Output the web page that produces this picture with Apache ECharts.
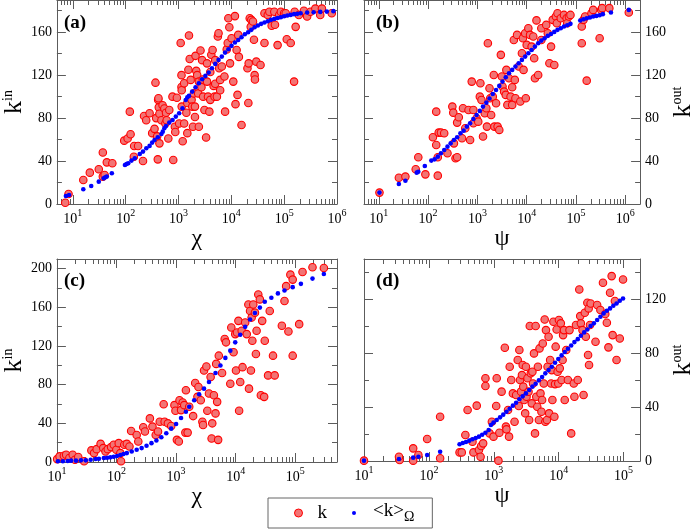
<!DOCTYPE html>
<html><head><meta charset="utf-8">
<script src="https://cdn.jsdelivr.net/npm/echarts@6/dist/echarts.min.js"></script>
<style>html,body{margin:0;padding:0;background:#fff}#c{width:697px;height:531px}</style>
</head><body><div id="c"></div>
<script>
// ---------------- data (x raw values, y values) ----------------
const aRed = [[7.2,1.2],[8.3,9.3],[15.8,22.4],[21,29.2],[31,32.3],[37,48],[37,25.5],[40,27],[44,38.8],[56,38],[94,59],[109,61],[120,86],[124,65],[143,44],[145,54],[172,54],[213,40],[223,82],[245,78],[284,84.5],[318,66],[352,70],[367,113],[378,80],[395,63],[406,41.6],[412,97],[418,98.5],[424,90],[436,84],[436,56.5],[475,78],[500,92],[540,89],[565,75],[581,85],[598,78],[642,61],[670,87.6],[770,100],[796,41],[855,72],[870,67],[932,99],[1030,75],[1100,150],[1140,120],[1140,109],[1150,90.7],[1150,106],[1200,58.4],[1280,112.5],[1280,75],[1410,85],[1470,66],[1470,94],[1540,125],[1580,157],[1630,135],[1700,115.6],[1770,97],[1820,90.7],[1880,72],[1960,103],[2050,90.7],[2050,81],[2100,138],[2170,124],[2260,120],[2360,103],[2430,72],[2430,114],[2610,143],[2720,108.7],[2800,134],[2880,116],[2930,100],[3100,87.6],[3330,62],[3470,114],[3470,131],[3620,100],[3840,86],[4000,97],[4000,123],[4180,139],[4420,143.5],[4620,110],[4820,100],[4960,134],[4960,112],[5330,100],[5560,156],[5730,159],[5890,126.4],[6150,106],[6150,115.6],[6610,128],[7410,118.7],[7620,86],[8190,144],[8550,150],[8790,173],[9180,164.6],[9450,131],[10100,154.4],[10900,114],[11700,175],[12000,93],[12600,143.5],[13100,101.6],[13500,157.5],[13900,137],[15600,73.6],[20200,126.4],[21000,94],[21300,131],[22300,173],[23300,165],[23900,171.5],[25700,170],[26800,153],[27600,120],[28000,116],[29700,132.6],[35700,129.5],[42400,177.7],[42400,150],[48900,176],[52500,179],[58000,166],[65100,179],[67000,167],[75100,148],[80700,176],[86700,179],[100000,177.7],[107000,177.7],[112000,153.5],[133000,150],[154000,114],[158000,179],[165000,165],[190000,176],[236000,180],[272000,174.6],[314000,179],[389000,182],[482000,176],[518000,182],[796000,177.7]];
const aBlue = [[7.4,7.5],[8.5,8.4],[15.8,13.7],[22.3,16.8],[31,20.8],[38.4,23.9],[41.2,24.9],[44,25.5],[54.8,28.6],[97,36.3],[104,37.3],[112,37.9],[129,40.4],[149,42.6],[185,46.6],[213,48.8],[246,51.9],[284,54.1],[318,57.2],[352,59.6],[406,62.1],[475,65.2],[504,67.4],[540,70.5],[581,72.7],[670,75.8],[773,78.3],[891,81.4],[1030,84.5],[1190,89.2],[1370,96.9],[1470,99.4],[1580,100.7],[1820,104.7],[2100,108.7],[2430,112.5],[2800,116.2],[3230,119.3],[3730,122.4],[4300,126.4],[4960,130.5],[5730,134.2],[6610,137.3],[7620,141],[8790,144.1],[10100,147.3],[11700,150.4],[13500,152.8],[15600,155.3],[18000,158.1],[20800,160],[23900,162.2],[27600,164.6],[31800,166.2],[36700,167.8],[42400,169],[48900,170.2],[56400,171.5],[65100,172.4],[75100,173.3],[86700,174],[100000,174.9],[115000,175.5],[133000,176.1],[154000,176.8],[177000,177.1],[205000,177.7],[272000,178.3],[362000,178.6],[482000,178.9],[641000,179.2],[855000,179.6]];
const bRed = [[10.3,10.6],[25.5,24.5],[34.6,25.5],[56,32.3],[63.2,43.5],[88,27.6],[125,62.1],[146,86],[146,55],[157,43.5],[164,66.5],[182,66.5],[157,26.4],[212,65.9],[247,47.2],[310,90.7],[324,85.1],[334,56.5],[360,42.6],[388,43.5],[388,75.8],[419,80.8],[487,61.2],[510,89.2],[567,70.5],[660,87.6],[711,59.6],[767,114],[828,87.6],[828,75.2],[963,79.8],[1040,76.7],[1120,100],[1150,112.5],[1210,96.9],[1300,62.8],[1410,84.5],[1520,89.2],[1560,72.1],[1630,149.7],[1760,107.8],[1820,98.5],[1900,82.9],[2050,100],[2150,120.2],[2210,72.1],[2390,93.8],[2570,72.1],[2780,69],[2990,138.9],[3130,118.7],[3230,109.4],[3480,104.7],[3760,101.6],[3870,124.9],[4060,92.3],[4370,117.1],[4710,100],[5080,108.7],[5080,92.3],[5480,152.8],[5740,115.6],[5910,98.5],[6380,157.5],[6880,128],[7420,95.4],[8000,140.4],[8370,154.4],[8630,124.9],[9310,159],[9590,98.5],[10000,148.2],[10800,163.7],[11700,157.5],[12600,146.6],[13600,156],[14200,135.8],[14700,117.1],[15800,171],[17100,120.2],[19800,152.8],[19800,163.7],[24900,166.8],[26800,159],[28900,131.1],[31200,146.6],[33700,171.5],[36300,129.5],[39100,174.6],[40900,168.4],[42200,177.7],[49100,173],[57100,176.1],[64600,173],[66500,168.4],[71800,174.6],[77300,176.1],[131000,149.7],[131000,165.3],[142000,171.5],[153000,174.6],[165000,114.9],[206000,177.7],[223000,180.8],[302000,154.4],[325000,180.8],[340000,182.4],[475000,182.4],[1180000,178.3]];
const bBlue = [[10.3,10.6],[25.5,18.6],[34.6,21.7],[58.7,29.2],[63.2,30.1],[85.7,35.4],[116,40.4],[135,41.6],[157,44.1],[182,47.2],[212,50.3],[247,53.4],[287,56.5],[334,59.6],[388,62.1],[452,65.9],[526,68.3],[612,72.1],[711,75.2],[828,79.2],[963,82.9],[1120,86.7],[1300,90.7],[1520,94.4],[1760,98.2],[2050,102.5],[2390,106.2],[2780,110],[3230,114],[3760,118],[4370,121.8],[5080,124.9],[5910,128],[6880,131.1],[8000,134.2],[9310,137.3],[10800,140.4],[12600,143.5],[14700,146.6],[17100,149.7],[19800,152.2],[23100,154.4],[26800,156.6],[31200,158.4],[36300,160.3],[42200,162.2],[49100,163.7],[57100,165.3],[66500,166.5],[77300,167.8],[122000,170.9],[142000,172.1],[165000,173],[192000,173.7],[223000,174.6],[259000,175.2],[302000,175.8],[351000,176.8],[512000,178.3],[1180000,180.8]];
const cRed = [[10.1,3],[11.1,5.8],[13.1,6.5],[14.3,7.5],[16.2,4.1],[18.4,7.5],[20.1,2.4],[22.8,5.1],[28.6,0.7],[37.9,12],[42,9.2],[46.5,13.3],[54.1,18.8],[59.9,14.4],[65.4,10.9],[71.4,13.3],[81.1,15.4],[89.8,17.8],[99.3,12.6],[109,19.5],[116,9.2],[119,0.7],[135,17.8],[149,18.8],[165,16],[176,32],[218,28],[232,21.2],[281,35.9],[300,31.5],[363,45.1],[401,36.6],[455,28],[497,31.5],[531,41.7],[618,59.8],[642,41.7],[728,40],[827,37.3],[938,58.8],[975,53],[1030,22.9],[1110,21.2],[1140,63.9],[1210,53.7],[1290,61.5],[1370,58.8],[1430,30.4],[1560,30.4],[1460,74.2],[1660,57.1],[1930,47.5],[2090,81.7],[2280,67.4],[2370,77.6],[2590,63.9],[2760,41.7],[2830,38.3],[2940,94.7],[3220,98.8],[3340,53],[3560,70.8],[3790,87.9],[3940,24.3],[4040,40],[4300,69.1],[4580,50.3],[4700,101.5],[4880,62.2],[5070,22.9],[5200,110],[5900,92],[6530,127.2],[6870,123.8],[8110,81],[8430,139.1],[9200,113.5],[9810,132.3],[10100,94.7],[10500,134],[11100,146],[11400,53],[11900,82.7],[12600,135.7],[13000,98.1],[14400,144.3],[15300,132.3],[16300,163],[16700,75.9],[17400,156.2],[18000,94.7],[18500,149.4],[19000,125.5],[19700,163],[21000,154.5],[21800,111.8],[22400,135.7],[23900,173.3],[25400,168.2],[26400,69.1],[27800,146],[30000,67.4],[30700,125.5],[34900,89.6],[37200,156.2],[42200,110],[45000,89.6],[59400,140.9],[65800,166.5],[70100,181.9],[76600,135],[82600,193.8],[90300,188.7],[90300,110],[116000,142.6],[132000,196.6],[194000,201.4],[301000,200.7]];
const cBlue = [[10.4,0.7],[12.6,0.7],[15.2,1],[17.3,1.4],[20.9,1.4],[25.3,1.7],[30.5,1.7],[36.9,2.4],[44.7,3.1],[50.7,3.4],[61.4,4.1],[69.6,4.4],[79,4.8],[89.8,5.5],[102,6.2],[116,7.2],[131,8.2],[149,9.2],[180,10.9],[218,12.6],[264,14.4],[319,16.8],[386,19.5],[467,22.2],[565,25.6],[684,29.7],[827,34.5],[1000,39.3],[1210,45.5],[1460,52],[1660,57.1],[2010,63.9],[2430,70.1],[2940,75.9],[3560,82.7],[4580,92],[5540,99.8],[6700,107.7],[8110,115.2],[9810,123.8],[11900,131.6],[14400,139.8],[17400,147.4],[21000,154.2],[25400,159.7],[30700,165.8],[39600,169.9],[51000,174.4],[65800,177.4],[90300,180.9],[124000,184.3],[194000,189.7],[301000,194.5]];
const dRed = [[10,0.25],[35.4,0.7],[34.6,3.2],[57.3,9.4],[57.3,0.25],[68.9,4.5],[94,16.3],[149,32.9],[149,2],[297,6.4],[321,6.4],[365,19.3],[395,37.9],[470,14.3],[486,6.4],[546,41.1],[591,8.2],[626,3.2],[640,11.1],[686,13.1],[744,61.4],[744,55.7],[863,20.5],[935,29.2],[991,18.1],[1090,40.8],[1110,61.4],[1180,0.25],[1220,21],[1320,51.5],[1480,84.1],[1540,25.5],[1570,23.5],[1660,37.9],[1720,18.1],[1760,70],[1860,60.1],[1970,50.2],[2090,29.2],[2210,49],[2340,75],[2430,40.8],[2480,82.4],[2540,60.1],[2630,51.5],[2720,63.8],[2790,71.3],[2850,55.2],[2950,45.3],[3050,35.4],[3130,70],[3200,47.7],[3310,61.4],[3430,51.5],[3510,30.4],[3590,100.2],[3720,65.1],[3850,42.8],[3940,66.3],[4030,57.6],[4170,79.9],[4320,20.5],[4420,100.2],[4520,47.7],[4680,40.3],[4790,70],[4960,30.4],[5070,83.6],[5250,50.2],[5430,36.6],[5560,45.3],[5690,87.3],[5890,57.6],[6090,105.1],[6230,29.2],[6370,97.2],[6600,30.4],[6750,70],[6990,92.3],[7140,35.4],[7390,75],[7650,57.6],[7840,67.5],[8010,45.3],[8300,103.4],[8590,32.9],[8800,57.1],[8990,84.9],[9310,97.7],[9640,66.3],[9870,57.6],[10100,104.7],[10400,68.8],[10800,102.2],[11100,60.1],[11500,75],[11700,93.5],[12100,97.2],[12400,45.3],[13100,82.4],[13900,60.1],[14700,97.2],[15600,20.5],[17100,57.6],[17500,47.7],[18500,101],[19700,60.1],[20800,127.4],[21500,107.6],[22000,102.2],[23300,97.2],[24200,49],[25300,110.1],[26200,92.3],[27700,117.5],[28400,78.7],[29000,113.3],[29400,71.3],[30400,101],[31100,117],[37000,88.6],[39200,115.8],[44000,112.1],[48200,132.4],[52300,109.1],[55300,102.7],[58500,84.4],[62000,124.9],[65600,137.3],[67900,93.5],[73600,118.8],[78000,75],[87500,91],[98200,134.8]];
const dBlue = [[10,0.25],[34.6,1.5],[57.3,2.5],[68.9,3.2],[94,4.5],[149,6.9],[297,12.4],[333,13.4],[373,14.1],[419,15.1],[470,16.1],[527,17.1],[591,18.1],[663,19.5],[744,21],[834,23],[904,26.7],[991,28.5],[1110,30.4],[1250,32.4],[1400,34.4],[1570,36.6],[1760,38.8],[1970,41.1],[2210,43.3],[2480,45.8],[2790,48],[3130,50.2],[3510,52.7],[3940,55.2],[4420,57.4],[4960,59.9],[5560,62.3],[6230,65.1],[6990,67.5],[7840,70],[8800,73],[9870,75.7],[11100,78.4],[12400,80.9],[13900,83.4],[15600,85.8],[17500,88.3],[19700,90.5],[22000,93],[24700,95.5],[27700,97.7],[31100,100.2],[34900,102.2],[39200,104.7],[44000,107.1],[49300,109.6],[55300,111.6],[62000,113.3],[69600,115.3],[78000,117],[87500,119],[98200,120.7]];

// tick labels (decade exponents for x, values for y)
const xDecadesAB = [1,2,3,4,5,6];
const xDecadesCD = [1,2,3,4,5];
const yTicksAB = [0,40,80,120,160];
const yTicksC = [0,40,80,120,160,200];
const yTicksD = [0,40,80,120];
const seriesNames = ['k', '<k>Ω'];
const panelLabels = ['(a)','(b)','(c)','(d)'];

// ---------------- chart ----------------
const FONT = 'Liberation Serif';
const LINE = '#5c5c5c';
const RED_FILL = '#f27474', RED_EDGE = '#ff0000', BLUE = '#0000ff';

const panels = [
  {grid:{left:52, top:0, width:285, height:204}, xr:[5,1e6], yr:[0,190], xt:xDecadesAB, yt:yTicksAB, ySide:'left', xName:'χ', yName:'{k|k}{s|in}', red:aRed, blue:aBlue},
  {grid:{left:364, top:0, width:284, height:204}, xr:[5,2e6], yr:[0,190], xt:xDecadesAB, yt:yTicksAB, ySide:'right', xName:'ψ', yName:'{k|k}{s|out}', red:bRed, blue:bBlue},
  {grid:{left:52, top:259, width:285, height:203}, xr:[10,5e5], yr:[0,210], xt:xDecadesCD, yt:yTicksC, ySide:'left', xName:'χ', yName:'{k|k}{s|in}', red:cRed, blue:cBlue},
  {grid:{left:364, top:259, width:285, height:202}, xr:[10,1.8e5], yr:[0,150], xt:xDecadesCD, yt:yTicksD, ySide:'right', xName:'ψ', yName:'{k|k}{s|out}', red:dRed, blue:dBlue}
];

function minorLog(lo, hi){
  const out=[];
  for(let d=Math.floor(lo); d<hi; d++) for(let k=2;k<=9;k++){
    const v=d+Math.log10(k); if(v>=lo-1e-9 && v<=hi+1e-9) out.push(v);
  }
  return out;
}
function minorLin(ticks, max){
  const out=[]; const step=ticks[1]-ticks[0];
  for(let v=ticks[0]+step/2; v<=max; v+=step) out.push(v);
  return out;
}

const lineStyle = {color: LINE, width: 1};
const grids=[], xAxes=[], yAxes=[], series=[], titles=[];
const titlePos = [[64,14],[376,14],[64,272],[376,272]];

panels.forEach((p,i)=>{
  grids.push(Object.assign({containLabel:false}, p.grid));
  const xmin=Math.log10(p.xr[0]), xmax=Math.log10(p.xr[1]);
  const xmin2 = minorLog(xmin,xmax);
  const base = {gridIndex:i, type:'value', min:xmin, max:xmax, splitLine:{show:false}, axisPointer:{show:false}};
  const xi = xAxes.length;
  xAxes.push(Object.assign({}, base, {
    position:'bottom',
    axisLine:{show:true, onZero:false, lineStyle},
    axisTick:{show:true, inside:true, length:9, customValues:p.xt, lineStyle},
    axisLabel:{show:true, customValues:p.xt, margin:4, fontFamily:FONT,
      formatter:(v)=>'{b|10}{s|'+Math.round(v)+'}',
      rich:{b:{fontFamily:FONT,fontSize:14,lineHeight:18,verticalAlign:'bottom',color:'#000'},
            s:{fontFamily:FONT,fontSize:10,lineHeight:8,verticalAlign:'top',color:'#000'}}},
    name:p.xName, nameLocation:'middle', nameGap:22,
    nameTextStyle:{fontFamily:FONT, fontSize:24, color:'#000'}
  }));
  xAxes.push(Object.assign({}, base, {position:'bottom', axisLine:{show:false,onZero:false},
    axisTick:{show:true, inside:true, length:5, customValues:xmin2, lineStyle}, axisLabel:{show:false}}));
  xAxes.push(Object.assign({}, base, {position:'top', axisLine:{show:true,onZero:false,lineStyle},
    axisTick:{show:true, inside:true, length:9, customValues:p.xt, lineStyle}, axisLabel:{show:false}}));
  xAxes.push(Object.assign({}, base, {position:'top', axisLine:{show:false,onZero:false},
    axisTick:{show:true, inside:true, length:5, customValues:xmin2, lineStyle}, axisLabel:{show:false}}));

  const ybase = {gridIndex:i, type:'value', min:p.yr[0], max:p.yr[1], splitLine:{show:false}, axisPointer:{show:false}};
  const ymin2 = minorLin(p.yt, p.yr[1]);
  const other = p.ySide==='left' ? 'right' : 'left';
  const yi = yAxes.length;
  yAxes.push(Object.assign({}, ybase, {
    position:p.ySide,
    axisLine:{show:true,onZero:false,lineStyle},
    axisTick:{show:true, inside:true, length:9, customValues:p.yt, lineStyle},
    axisLabel:{show:true, customValues:p.yt, margin:5, fontFamily:FONT, fontSize:14, color:'#000'},
    name:p.yName, nameLocation:'middle', nameRotate:90, nameGap: p.ySide==='left'?26:28,
    nameTextStyle:{fontFamily:FONT, color:'#000', rich:{
      k:{fontFamily:FONT,fontSize:26,lineHeight:26,verticalAlign:'bottom',color:'#000'},
      s:{fontFamily:FONT,fontSize:14,lineHeight:10,verticalAlign:'top',color:'#000'}}}
  }));
  yAxes.push(Object.assign({}, ybase, {position:p.ySide, axisLine:{show:false,onZero:false},
    axisTick:{show:true, inside:true, length:5, customValues:ymin2, lineStyle}, axisLabel:{show:false}}));
  yAxes.push(Object.assign({}, ybase, {position:other, axisLine:{show:true,onZero:false,lineStyle},
    axisTick:{show:true, inside:true, length:9, customValues:p.yt, lineStyle}, axisLabel:{show:false}}));
  yAxes.push(Object.assign({}, ybase, {position:other, axisLine:{show:false,onZero:false},
    axisTick:{show:true, inside:true, length:5, customValues:ymin2, lineStyle}, axisLabel:{show:false}}));

  series.push({type:'scatter', name:seriesNames[0], xAxisIndex:xi, yAxisIndex:yi, symbol:'circle', symbolSize:7.5,
    itemStyle:{color:RED_FILL, borderColor:RED_EDGE, borderWidth:1.1, opacity:1},
    data:p.red.map(d=>[Math.log10(d[0]), d[1]]), z:2, silent:true});
  series.push({type:'scatter', name:seriesNames[1], xAxisIndex:xi, yAxisIndex:yi, symbol:'circle', symbolSize:4.6,
    itemStyle:{color:BLUE, opacity:1},
    data:p.blue.map(d=>[Math.log10(d[0]), d[1]]), z:3, silent:true});

  titles.push({text:panelLabels[i], left:titlePos[i][0], top:titlePos[i][1], padding:0,
    textStyle:{fontFamily:FONT, fontWeight:'bold', fontSize:19, color:'#000'}});
});

const chart = echarts.init(document.getElementById('c'), null, {renderer:'canvas'});
chart.setOption({
  animation:false,
  backgroundColor:'#fff',
  textStyle:{fontFamily:FONT},
  title:titles,
  grid:grids, xAxis:xAxes, yAxis:yAxes, series:series,
  legend:{
    left:268, top:498, orient:'horizontal',
    padding:[4,18,4,26], itemGap:23, itemWidth:8, itemHeight:8,
    borderColor:'#666', borderWidth:1, borderRadius:0,
    selectedMode:false,
    data:[
      {name:seriesNames[0], icon:'circle', itemStyle:{color:RED_FILL, borderColor:RED_EDGE, borderWidth:1}},
      {name:seriesNames[1], icon:'path://M0,0M8,8M2,4a2,2 0 1,0 4,0a2,2 0 1,0 -4,0Z', itemStyle:{color:BLUE}}
    ],
    formatter:(n)=> n==='k' ? '{k|k}' : '{p|<k>}{s|Ω}',
    textStyle:{fontFamily:FONT, fontSize:18, color:'#000', rich:{
      k:{fontFamily:FONT,fontSize:19,lineHeight:22,padding:[0,0,0,10],color:'#000'},
      p:{fontFamily:FONT,fontSize:19,lineHeight:22,verticalAlign:'top',padding:[0,0,0,10],color:'#000'},
      s:{fontFamily:FONT,fontSize:14,lineHeight:10,verticalAlign:'bottom',color:'#000'}}}
  }
});
</script></body></html>
